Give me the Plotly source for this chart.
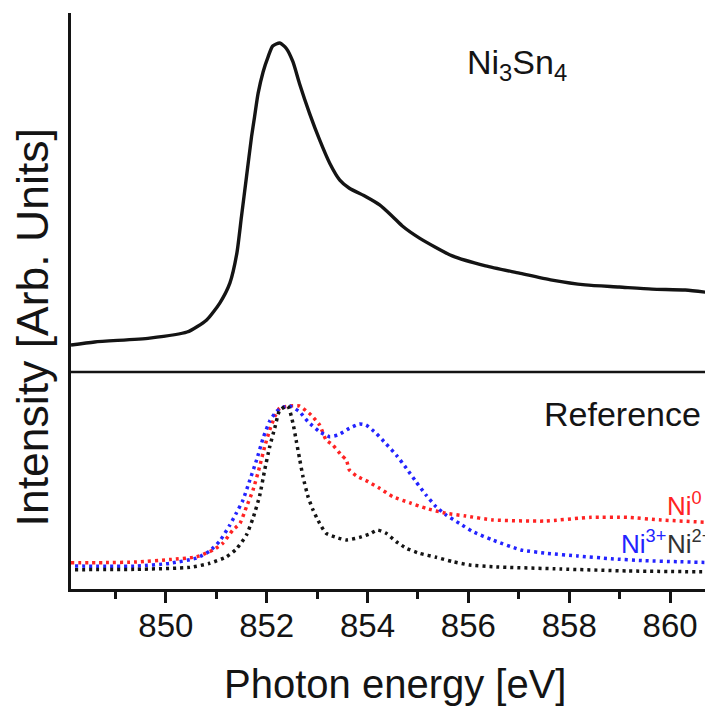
import plotly.graph_objects as go

# ---------------- data ----------------
# Top panel: Ni3Sn4 measured spectrum (normalized, arb. units)
ni3sn4_energy = [848.12, 848.59, 849.68, 850.42, 850.81, 851.07, 851.27, 851.41, 851.50, 851.60,
                 851.70, 851.76, 851.83, 851.93, 852.03, 852.12, 852.26, 852.39, 852.52, 852.65,
                 852.85, 853.05, 853.25, 853.45, 853.64, 853.97, 854.24, 854.50, 854.69, 855.03,
                 855.68, 856.34, 857.01, 857.66, 858.32, 858.99, 859.64, 860.30, 860.85]
ni3sn4_intensity = [0.000, 0.010, 0.023, 0.043, 0.083, 0.139, 0.205, 0.305, 0.425, 0.557,
                    0.690, 0.756, 0.833, 0.905, 0.955, 0.990, 1.000, 0.982, 0.938, 0.866,
                    0.767, 0.679, 0.602, 0.546, 0.519, 0.491, 0.464, 0.425, 0.394, 0.354,
                    0.295, 0.262, 0.238, 0.215, 0.199, 0.192, 0.185, 0.182, 0.172]

# Bottom panel: reference spectra
ni0_energy = [848.12, 848.76, 849.42, 850.08, 850.61, 850.94, 851.13, 851.33, 851.47, 851.60,
              851.73, 851.86, 851.96, 852.06, 852.16, 852.26, 852.46, 852.65, 852.88, 853.05,
              853.18, 853.31, 853.48, 853.58, 853.64, 853.78, 854.01, 854.24, 854.50, 854.83,
              855.16, 855.56, 855.95, 856.48, 857.50, 858.43, 859.15, 859.82, 860.85]
ni0_intensity = [0.039, 0.039, 0.043, 0.058, 0.075, 0.117, 0.158, 0.239, 0.280, 0.382,
                 0.485, 0.628, 0.750, 0.853, 0.934, 0.988, 1.000, 1.000, 0.945, 0.883,
                 0.791, 0.761, 0.699, 0.669, 0.607, 0.571, 0.536, 0.495, 0.444, 0.407,
                 0.372, 0.342, 0.325, 0.301, 0.294, 0.317, 0.317, 0.301, 0.284]

ni3_energy = [848.20, 849.42, 850.08, 850.61, 850.87, 851.07, 851.27, 851.40, 851.53, 851.66,
              851.80, 851.93, 852.06, 852.19, 852.30, 852.46, 852.65, 852.82, 853.05, 853.25,
              853.41, 853.64, 853.84, 853.97, 854.17, 854.37, 854.57, 854.77, 854.96, 855.16,
              855.36, 855.56, 855.82, 856.09, 856.48, 857.04, 857.57, 858.16, 858.83, 859.49,
              860.14, 860.85]
ni3_intensity = [0.018, 0.018, 0.035, 0.067, 0.110, 0.172, 0.270, 0.344, 0.423, 0.540,
                 0.669, 0.804, 0.908, 0.965, 0.990, 1.000, 0.965, 0.904, 0.842, 0.812,
                 0.822, 0.863, 0.890, 0.883, 0.833, 0.767, 0.699, 0.618, 0.536, 0.454,
                 0.382, 0.331, 0.280, 0.229, 0.178, 0.117, 0.096, 0.080, 0.063, 0.051,
                 0.045, 0.039]

ni2_energy = [848.20, 849.42, 850.48, 850.87, 851.20, 851.40, 851.60, 851.73, 851.86, 851.96,
              852.06, 852.16, 852.26, 852.42, 852.52, 852.59, 852.65, 852.72, 852.82, 852.92,
              853.05, 853.18, 853.38, 853.58, 853.84, 854.04, 854.20, 854.37, 854.57, 854.77,
              855.03, 855.36, 855.69, 856.02, 856.48, 857.84, 859.15, 860.85]
ni2_intensity = [-0.004, -0.002, 0.010, 0.035, 0.074, 0.123, 0.209, 0.313, 0.448, 0.607,
                 0.750, 0.865, 0.975, 1.000, 0.896, 0.781, 0.681, 0.566, 0.444, 0.362,
                 0.280, 0.219, 0.194, 0.178, 0.194, 0.215, 0.239, 0.219, 0.167, 0.127,
                 0.096, 0.072, 0.045, 0.025, 0.014, 0.000, -0.012, -0.018]

x_tickvals = [850, 852, 854, 856, 858, 860]
x_ticktext = ["850", "852", "854", "856", "858", "860"]

FONT = "Liberation Sans, Arial, sans-serif"
RED = "rgb(255,35,35)"
BLUE = "rgb(35,35,255)"
BLACK = "rgb(20,20,20)"
SPLIT = 0.3767

fig = go.Figure()

fig.add_trace(go.Scatter(x=ni3sn4_energy, y=ni3sn4_intensity, mode="lines",
                         line=dict(color=BLACK, width=3.4, shape="spline", smoothing=0.6),
                         xaxis="x", yaxis="y2", showlegend=False))

dot = "3px,4px"
fig.add_trace(go.Scatter(x=ni0_energy, y=ni0_intensity, mode="lines",
                         line=dict(color=RED, width=3.5, dash=dot, shape="spline", smoothing=0.5),
                         xaxis="x", yaxis="y", showlegend=False))
fig.add_trace(go.Scatter(x=ni3_energy, y=ni3_intensity, mode="lines",
                         line=dict(color=BLUE, width=3.5, dash=dot, shape="spline", smoothing=0.5),
                         xaxis="x", yaxis="y", showlegend=False))
fig.add_trace(go.Scatter(x=ni2_energy, y=ni2_intensity, mode="lines",
                         line=dict(color=BLACK, width=3.5, dash=dot, shape="spline", smoothing=0.5),
                         xaxis="x", yaxis="y", showlegend=False))

# page body has an 8px margin: figure is sized/margined so the plot area lands at
# page x 71..713, y 13..589
fig.update_layout(
    width=705, height=700,
    margin=dict(l=63, r=0, t=5, b=119),
    paper_bgcolor="white", plot_bgcolor="white",
    font=dict(family=FONT, color=BLACK),
    xaxis=dict(range=[848.12, 860.85], anchor="y", showgrid=False, zeroline=False,
               showline=True, linecolor=BLACK, linewidth=2.5,
               tickmode="array", tickvals=x_tickvals, ticktext=x_ticktext,
               ticks="outside", ticklen=11, tickwidth=2.5, tickcolor=BLACK,
               ticklabelstandoff=-5,
               tickfont=dict(size=33, family=FONT, color=BLACK),
               minor=dict(dtick=1, tick0=849, ticks="outside", ticklen=7, tickwidth=2.5,
                          tickcolor=BLACK, showgrid=False)),
    yaxis=dict(domain=[0, SPLIT], range=[-0.1227, 1.2086], showgrid=False, zeroline=False,
               showline=True, linecolor=BLACK, linewidth=2.5, showticklabels=False, ticks=""),
    yaxis2=dict(domain=[SPLIT, 1], range=[-0.0894, 1.0993], anchor="x", showgrid=False,
                zeroline=False, showline=True, linecolor=BLACK, linewidth=2.5,
                showticklabels=False, ticks=""),
    shapes=[dict(type="line", xref="paper", yref="paper", x0=0, x1=1, y0=SPLIT, y1=SPLIT,
                 line=dict(color=BLACK, width=2.5))],
    annotations=[
        dict(text="Ni<sub>3</sub>Sn<sub>4</sub>", xref="paper", yref="paper", x=0.613, y=0.910,
             xanchor="left", yanchor="middle", showarrow=False, font=dict(size=34, color=BLACK)),
        dict(text="Reference", xref="paper", yref="paper", x=0.733, y=0.304,
             xanchor="left", yanchor="middle", showarrow=False, font=dict(size=34, color=BLACK)),
        dict(text="Ni<sup>0</sup>", xref="paper", yref="paper", x=0.925, y=0.146,
             xanchor="left", yanchor="middle", showarrow=False, font=dict(size=26, color=RED)),
        dict(text="Ni<sup>3+</sup>", xref="paper", yref="paper", x=0.853, y=0.080,
             xanchor="left", yanchor="middle", showarrow=False, font=dict(size=26, color=BLUE)),
        dict(text="Ni<sup>2+</sup>", xref="paper", yref="paper", x=0.926, y=0.080,
             xanchor="left", yanchor="middle", showarrow=False, font=dict(size=26, color="rgb(50,50,50)")),
        dict(text="Intensity [Arb. Units]", xref="paper", yref="paper", x=-0.060, y=0.455,
             xanchor="center", yanchor="middle", textangle=-90, showarrow=False,
             font=dict(size=44.5, color=BLACK)),
        dict(text="Photon energy [eV]", xref="paper", yref="paper", x=0.504, y=-0.165,
             xanchor="center", yanchor="middle", showarrow=False, font=dict(size=40, color=BLACK)),
    ],
)

fig.write_html("out.html")
